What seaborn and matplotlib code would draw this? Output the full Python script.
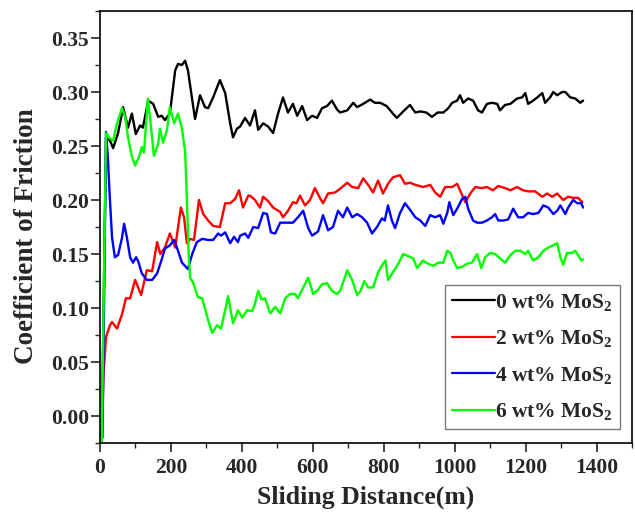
import numpy as np
import pandas as pd
import matplotlib
matplotlib.use("Agg")
import matplotlib.pyplot as plt
import seaborn as sns
from matplotlib.ticker import MultipleLocator

# ---------------- data ----------------
labels = ["0 wt% MoS$_2$", "2 wt% MoS$_2$", "4 wt% MoS$_2$", "6 wt% MoS$_2$"]
colors = ["#000000", "#ff0000", "#0000ff", "#00ff00"]

d0 = [5, 17, 28, 37, 51, 65, 79, 90, 101, 113, 121, 136, 150, 164, 174, 183, 197, 212, 220, 231, 240, 248, 259, 268,
      282, 296, 305, 319, 338, 353, 367, 375, 386, 395, 409, 423, 437, 446, 460, 474, 488, 502, 516, 530, 544, 556,
      570, 584, 598, 612, 626, 640, 654, 668, 677, 697, 714, 725, 742, 762, 775, 790, 808, 826, 837, 855, 874, 889,
      903, 920, 936, 952, 968, 982, 993, 1007, 1015, 1024, 1038, 1052, 1066, 1077, 1091, 1105, 1120, 1128, 1142,
      1157, 1176, 1190, 1199, 1207, 1221, 1233, 1247, 1255, 1269, 1278, 1289, 1303, 1312, 1326, 1340, 1354, 1362]
v0 = [-0.02, 0.258, 0.255, 0.248, 0.262, 0.286, 0.267, 0.280, 0.261, 0.269, 0.267, 0.292, 0.289, 0.277, 0.278,
      0.274, 0.280, 0.320, 0.326, 0.325, 0.329, 0.320, 0.295, 0.275, 0.297, 0.286, 0.285, 0.295, 0.311, 0.299,
      0.271, 0.258, 0.266, 0.268, 0.276, 0.269, 0.283, 0.265, 0.271, 0.268, 0.262, 0.280, 0.295, 0.281, 0.289,
      0.278, 0.287, 0.274, 0.278, 0.276, 0.285, 0.287, 0.292, 0.284, 0.281, 0.283, 0.290, 0.286, 0.289, 0.293,
      0.290, 0.290, 0.287, 0.280, 0.276, 0.282, 0.288, 0.281, 0.282, 0.281, 0.277, 0.281, 0.281, 0.285, 0.290,
      0.292, 0.297, 0.290, 0.294, 0.292, 0.283, 0.281, 0.289, 0.290, 0.289, 0.283, 0.288, 0.289, 0.294, 0.295,
      0.299, 0.289, 0.292, 0.295, 0.299, 0.290, 0.295, 0.300, 0.297, 0.300, 0.300, 0.295, 0.294, 0.290, 0.292]

d2 = [5, 10, 17, 28, 34, 48, 62, 73, 85, 99, 116, 132, 147, 161, 170, 183, 197, 212, 228, 237, 245, 254, 265, 279,
      291, 305, 319, 338, 353, 367, 381, 392, 403, 418, 423, 437, 451, 460, 474, 488, 508, 516, 530, 544, 554, 564,
      578, 592, 606, 620, 629, 643, 663, 683, 697, 711, 728, 742, 756, 770, 784, 798, 812, 826, 846, 860, 874, 889,
      911, 931, 945, 959, 973, 993, 1007, 1015, 1030, 1044, 1058, 1077, 1091, 1108, 1123, 1142, 1157, 1176, 1193,
      1207, 1227, 1247, 1261, 1275, 1289, 1306, 1320, 1334, 1348, 1360]
v2 = [-0.025, 0.040, 0.073, 0.084, 0.087, 0.081, 0.094, 0.109, 0.109, 0.126, 0.112, 0.135, 0.134, 0.161, 0.150,
      0.156, 0.169, 0.156, 0.193, 0.184, 0.160, 0.164, 0.163, 0.200, 0.187, 0.181, 0.176, 0.175, 0.197, 0.197,
      0.201, 0.209, 0.193, 0.204, 0.204, 0.200, 0.193, 0.203, 0.199, 0.193, 0.189, 0.184, 0.190, 0.198, 0.197,
      0.204, 0.195, 0.200, 0.211, 0.202, 0.197, 0.206, 0.207, 0.212, 0.216, 0.212, 0.211, 0.220, 0.214, 0.207,
      0.218, 0.206, 0.215, 0.221, 0.223, 0.215, 0.216, 0.214, 0.212, 0.214, 0.207, 0.203, 0.212, 0.212, 0.215,
      0.209, 0.198, 0.206, 0.212, 0.211, 0.212, 0.209, 0.213, 0.211, 0.209, 0.212, 0.209, 0.208, 0.208, 0.203,
      0.206, 0.203, 0.206, 0.200, 0.203, 0.202, 0.202, 0.198]

d4 = [7, 17, 22, 28, 34, 42, 51, 62, 68, 76, 85, 93, 102, 108, 118, 132, 147, 161, 175, 183, 197, 209, 220, 231, 248,
      260, 273, 288, 305, 319, 333, 341, 353, 367, 378, 389, 395, 409, 418, 432, 446, 460, 471, 482, 494, 508, 526,
      544, 558, 573, 587, 598, 615, 629, 643, 657, 671, 685, 697, 711, 725, 739, 753, 767, 781, 795, 803, 812, 823,
      832, 846, 860, 874, 889, 903, 917, 931, 945, 959, 968, 979, 985, 996, 1007, 1021, 1030, 1038, 1052, 1063,
      1077, 1091, 1105, 1114, 1123, 1137, 1151, 1165, 1179, 1193, 1207, 1221, 1236, 1250, 1264, 1278, 1289, 1298,
      1312, 1320, 1334, 1346, 1357, 1362]
v4 = [-0.02, 0.263, 0.240, 0.200, 0.165, 0.147, 0.149, 0.165, 0.178, 0.165, 0.147, 0.142, 0.147, 0.143, 0.132,
      0.126, 0.126, 0.132, 0.146, 0.155, 0.158, 0.163, 0.153, 0.142, 0.136, 0.150, 0.161, 0.164, 0.163, 0.163,
      0.169, 0.167, 0.170, 0.160, 0.166, 0.161, 0.167, 0.169, 0.165, 0.175, 0.174, 0.188, 0.187, 0.170, 0.169,
      0.179, 0.179, 0.179, 0.184, 0.190, 0.174, 0.167, 0.171, 0.186, 0.172, 0.175, 0.190, 0.184, 0.193, 0.184,
      0.187, 0.184, 0.179, 0.169, 0.175, 0.183, 0.181, 0.195, 0.181, 0.174, 0.188, 0.197, 0.191, 0.184, 0.181,
      0.176, 0.186, 0.184, 0.186, 0.178, 0.188, 0.198, 0.186, 0.192, 0.201, 0.203, 0.192, 0.181, 0.179, 0.179,
      0.181, 0.184, 0.187, 0.181, 0.181, 0.182, 0.192, 0.184, 0.184, 0.188, 0.187, 0.188, 0.195, 0.193, 0.187,
      0.190, 0.195, 0.187, 0.193, 0.200, 0.197, 0.197, 0.193]

d6 = [5, 10, 17, 28, 37, 48, 62, 71, 79, 90, 99, 110, 118, 124, 135, 144, 152, 164, 169, 178, 189, 197, 209, 220,
      231, 240, 245, 250, 254, 262, 276, 288, 302, 316, 330, 341, 353, 361, 367, 375, 389, 401, 415, 429, 437, 446,
      455, 465, 480, 494, 508, 522, 536, 550, 558, 573, 587, 601, 615, 626, 640, 654, 668, 677, 688, 697, 711, 725,
      735, 745, 756, 770, 784, 798, 805, 812, 826, 841, 855, 869, 883, 894, 911, 925, 940, 954, 968, 979, 988, 996,
      1007, 1021, 1035, 1049, 1063, 1075, 1086, 1100, 1114, 1128, 1142, 1157, 1171, 1185, 1199, 1207, 1221, 1236,
      1250, 1264, 1278, 1289, 1298, 1306, 1317, 1331, 1340, 1348, 1357, 1362]
v6 = [-0.025, 0.100, 0.262, 0.257, 0.255, 0.271, 0.285, 0.277, 0.258, 0.240, 0.232, 0.240, 0.249, 0.244, 0.294,
      0.267, 0.241, 0.252, 0.266, 0.253, 0.265, 0.286, 0.271, 0.280, 0.266, 0.245, 0.200, 0.150, 0.128, 0.124,
      0.110, 0.109, 0.092, 0.077, 0.084, 0.081, 0.098, 0.111, 0.100, 0.086, 0.098, 0.091, 0.098, 0.097, 0.104,
      0.116, 0.108, 0.109, 0.095, 0.101, 0.095, 0.109, 0.113, 0.113, 0.109, 0.119, 0.128, 0.113, 0.117, 0.122,
      0.123, 0.116, 0.113, 0.116, 0.126, 0.135, 0.126, 0.112, 0.116, 0.125, 0.119, 0.119, 0.133, 0.141, 0.144,
      0.126, 0.133, 0.141, 0.150, 0.148, 0.146, 0.137, 0.144, 0.141, 0.139, 0.142, 0.142, 0.153, 0.151, 0.144,
      0.137, 0.138, 0.141, 0.142, 0.150, 0.137, 0.147, 0.151, 0.150, 0.146, 0.142, 0.149, 0.153, 0.153, 0.150,
      0.153, 0.144, 0.147, 0.153, 0.156, 0.158, 0.160, 0.147, 0.140, 0.151, 0.151, 0.153, 0.149, 0.144, 0.145]

x_ticks = [0, 200, 400, 600, 800, 1000, 1200, 1400]
y_ticks = [0.00, 0.05, 0.10, 0.15, 0.20, 0.25, 0.30, 0.35]

# ---------------- style ----------------
sns.set_style("ticks")
plt.rcParams["font.family"] = ["Liberation Serif", "DejaVu Serif"]
plt.rcParams["font.weight"] = "bold"
plt.rcParams["mathtext.fontset"] = "custom"
plt.rcParams["mathtext.rm"] = "Liberation Serif:bold"
plt.rcParams["mathtext.bf"] = "Liberation Serif:bold"
plt.rcParams["mathtext.it"] = "Liberation Serif:bold:italic"
plt.rcParams["mathtext.default"] = "rm"

frames = []
for lab, dd, vv in zip(labels, [d0, d2, d4, d6], [v0, v2, v4, v6]):
    frames.append(pd.DataFrame({"Sliding Distance": dd, "COF": vv, "series": lab}))
df = pd.concat(frames, ignore_index=True)

fig = plt.figure(figsize=(6.35, 5.14), dpi=100)
ax = fig.add_axes([100 / 635, 1 - 443 / 514, 532 / 635, 432 / 514])

sns.lineplot(data=df, x="Sliding Distance", y="COF", hue="series", hue_order=labels,
             palette=dict(zip(labels, colors)), estimator=None, sort=False,
             linewidth=1.7, ax=ax)

ax.set_xlim(0, 1500)
ax.set_ylim(-0.025, 0.375)
ax.set_xticks(x_ticks)
ax.set_yticks(y_ticks)
ax.set_xticklabels([str(t) for t in x_ticks])
ax.set_yticklabels([f"{t:.2f}" for t in y_ticks])
ax.xaxis.set_minor_locator(MultipleLocator(100))
ax.yaxis.set_minor_locator(MultipleLocator(0.025))
ax.tick_params(axis="both", which="major", direction="out", length=6.5, width=1.2,
               labelsize=15.5)
ax.tick_params(axis="x", which="major", pad=4)
ax.tick_params(axis="y", which="major", pad=1.5)
ax.tick_params(axis="both", which="minor", direction="out", length=3.5, width=1.0)
ax.tick_params(top=False, right=False, which="both")
for lbl in ax.get_xticklabels() + ax.get_yticklabels():
    lbl.set_fontweight("bold")
for sp in ax.spines.values():
    sp.set_linewidth(1.2)
    sp.set_color("black")

ax.set_xlabel("Sliding Distance(m)", fontsize=18.5, fontweight="bold", labelpad=6)
ax.set_ylabel("Coefficient of Friction", fontsize=19.5, fontweight="bold")
ax.yaxis.set_label_coords(-0.115, 0.479)

leg = ax.legend(loc="lower right", bbox_to_anchor=(0.977, 0.032), frameon=True, fancybox=False,
                fontsize=15.5, handlelength=2.0, handletextpad=0.0, labelspacing=0.72,
                borderpad=0.32, borderaxespad=0)
leg.get_frame().set_edgecolor("#555555")
leg.get_frame().set_linewidth(1.0)
for line in leg.get_lines():
    line.set_linewidth(1.6)
for t in leg.get_texts():
    t.set_fontweight("bold")

fig.savefig("out.png", dpi=100)
